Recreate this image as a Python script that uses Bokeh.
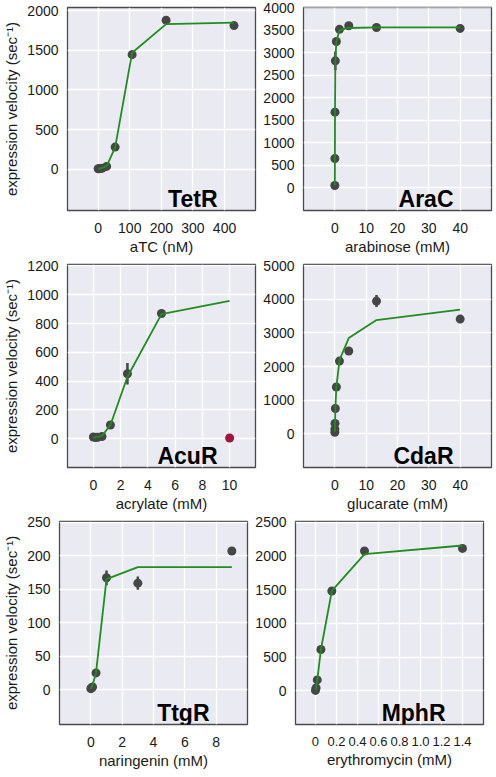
from bokeh.plotting import figure
from bokeh.layouts import column, row
from bokeh.models import Range1d, FixedTicker, Label
from bokeh.embed import file_html
from bokeh.resources import INLINE

FONT = "Liberation Sans"

# ---------------- data ----------------
tetr_conc = [0, 3.4, 6.7, 13.4, 26.9, 53.8, 107.5, 215, 430]
tetr_vel = [6, 8, 10, 14, 36, 280, 1445, 1880, 1812]
tetr_err = [3, 3, 3, 5, 8, 15, 55, 15, 15]
tetr_fit = [5, 7, 10, 16, 40, 275, 1470, 1830, 1850]

arac_conc = [0, 0.018, 0.055, 0.165, 0.49, 1.48, 4.44, 13.3, 40]
arac_vel = [50, 650, 1680, 2820, 3250, 3520, 3600, 3560, 3540]
arac_err = [10, 20, 40, 210, 50, 30, 20, 20, 60]
arac_fit = [50, 650, 1680, 2820, 3250, 3500, 3550, 3565, 3565]

acur_conc = [0, 0.16, 0.31, 0.63, 1.25, 2.5, 5]
acur_vel = [12, 8, 10, 15, 95, 451, 870]
acur_err = [3, 3, 3, 4, 10, 75, 20]
acur_fit_conc = [0, 0.16, 0.31, 0.63, 1.25, 2.5, 5, 10]
acur_fit = [10, 10, 12, 20, 95, 430, 865, 958]
acur_outlier_conc = [10]
acur_outlier_vel = [5]

cdar_conc = [0, 0.018, 0.055, 0.165, 0.49, 1.48, 4.44, 13.3, 40]
cdar_vel = [47, 141, 310, 751, 1390, 2160, 2460, 3944, 3408]
cdar_err = [10, 15, 20, 30, 40, 40, 40, 180, 60]
cdar_fit = [60, 130, 300, 740, 1390, 2190, 2845, 3380, 3690]

ttgr_conc = [0, 0.037, 0.11, 0.33, 1, 3, 9]
ttgr_vel = [1.5, 2.5, 4, 25, 167, 159, 207]
ttgr_err = [0.5, 0.5, 1, 2, 11, 10, 3]
ttgr_fit = [1, 3, 7, 25, 165, 183, 183]

mphr_conc = [0, 0.006, 0.017, 0.052, 0.156, 0.467, 1.4]
mphr_vel = [5, 43, 161, 612, 1480, 2073, 2111]
mphr_err = [3, 10, 15, 20, 30, 20, 35]
mphr_fit = [10, 50, 150, 612, 1480, 2025, 2154]

names = ["TetR", "AraC", "AcuR", "CdaR", "TtgR", "MphR"]
x_labels = ["aTC (nM)", "arabinose (mM)", "acrylate (mM)", "glucarate (mM)",
            "naringenin (mM)", "erythromycin (mM)"]
y_label = "expression velocity (sec\u207b\u00b9)"

tetr_xticks = [0, 100, 200, 300, 400]
tetr_yticks = [0, 500, 1000, 1500, 2000]
arac_xticks = [0, 10, 20, 30, 40]
arac_yticks = [0, 500, 1000, 1500, 2000, 2500, 3000, 3500, 4000]
acur_xticks = [0, 2, 4, 6, 8, 10]
acur_yticks = [0, 200, 400, 600, 800, 1000, 1200]
cdar_xticks = [0, 10, 20, 30, 40]
cdar_yticks = [0, 1000, 2000, 3000, 4000, 5000]
ttgr_xticks = [0, 2, 4, 6, 8]
ttgr_yticks = [0, 50, 100, 150, 200, 250]
mphr_xticks = [0, 0.2, 0.4, 0.6, 0.8, 1.0, 1.2, 1.4]
mphr_xtick_labels = ["0", "0.2", "0.4", "0.6", "0.8", "1.0", "1.2", "1.4"]
mphr_yticks = [0, 500, 1000, 1500, 2000, 2500]

FW, FH = 188, 203
GREEN = "#228b22"
DOT = "#464646"


def panel(name, xlabel, conc, vel, err, fit_conc, fit, xr, yr, xt, yt, left,
          xtick_labels=None, xtick_size="14px"):
    p = figure(frame_width=FW, frame_height=FH,
               min_border_left=55 if left else 46,
               min_border_right=2 if left else 4,
               min_border_top=7, min_border_bottom=43,
               x_range=Range1d(*xr), y_range=Range1d(*yr),
               output_backend="svg", toolbar_location=None,
               background_fill_color="#eaeaf2", border_fill_color="white",
               outline_line_color="#4a4a4a", outline_line_width=1.3)
    p.xaxis.ticker = FixedTicker(ticks=xt)
    p.yaxis.ticker = FixedTicker(ticks=yt)
    p.xgrid.ticker = FixedTicker(ticks=xt)
    p.ygrid.ticker = FixedTicker(ticks=yt)
    if xtick_labels is not None:
        p.xaxis.major_label_overrides = {t: l for t, l in zip(xt, xtick_labels)}
    for ax in (p.xaxis[0], p.yaxis[0]):
        ax.axis_line_color = None
        ax.major_tick_line_color = None
        ax.minor_tick_line_color = None
        ax.major_label_text_font = FONT
        ax.major_label_text_font_size = "14px"
        ax.major_label_text_color = "#1a1a1a"
        ax.axis_label_text_font = FONT
        ax.axis_label_text_font_style = "normal"
        ax.axis_label_text_font_size = "15px"
        ax.axis_label_text_color = "#1a1a1a"
    p.xaxis.major_label_text_font_size = xtick_size
    p.xaxis.major_label_standoff = 6
    p.yaxis.major_label_standoff = 3
    p.xaxis.axis_label_standoff = 2
    p.yaxis.axis_label_standoff = 4
    p.xaxis.axis_label = xlabel
    if left:
        p.yaxis.axis_label = y_label
    p.grid.grid_line_color = "white"
    p.grid.grid_line_width = 1.3

    lo = [v - e for v, e in zip(vel, err)]
    hi = [v + e for v, e in zip(vel, err)]
    p.segment(x0=conc, y0=lo, x1=conc, y1=hi, line_color=DOT, line_width=2.5)
    p.scatter(conc, vel, size=9, fill_color=DOT, line_color=None)
    p.line(fit_conc, fit, line_color=GREEN, line_width=1.8)

    p.add_layout(Label(x=FW - 38, y=12, x_units="screen", y_units="screen",
                       text=name, text_font=FONT, text_font_size="23px",
                       text_font_style="bold", text_align="right",
                       text_baseline="alphabetic", text_color="black"))
    return p


p1 = panel(names[0], x_labels[0], tetr_conc, tetr_vel, tetr_err, tetr_conc, tetr_fit,
           (-97, 498), (-520, 2040), tetr_xticks, tetr_yticks, True)
p2 = panel(names[1], x_labels[1], arac_conc, arac_vel, arac_err, arac_conc, arac_fit,
           (-10, 50), (-505, 4005), arac_xticks, arac_yticks, False)
p3 = panel(names[2], x_labels[2], acur_conc, acur_vel, acur_err, acur_fit_conc, acur_fit,
           (-1.9, 11.9), (-200, 1210), acur_xticks, acur_yticks, True)
p3.scatter(acur_outlier_conc, acur_outlier_vel, size=9, fill_color="#a3143c", line_color=None)
p4 = panel(names[3], x_labels[3], cdar_conc, cdar_vel, cdar_err, cdar_conc, cdar_fit,
           (-10, 50), (-1000, 5030), cdar_xticks, cdar_yticks, False)
p5 = panel(names[4], x_labels[4], ttgr_conc, ttgr_vel, ttgr_err, ttgr_conc, ttgr_fit,
           (-2, 10), (-52, 251), ttgr_xticks, ttgr_yticks, True)
p6 = panel(names[5], x_labels[5], mphr_conc, mphr_vel, mphr_err, mphr_conc, mphr_fit,
           (-0.19, 1.6), (-500, 2510), mphr_xticks, mphr_yticks, False,
           xtick_labels=mphr_xtick_labels, xtick_size="13px")

layout = column(row(p1, p2, spacing=0), row(p3, p4, spacing=0), row(p5, p6, spacing=0),
                spacing=0)

open("out.html", "w").write(file_html(layout, INLINE))
